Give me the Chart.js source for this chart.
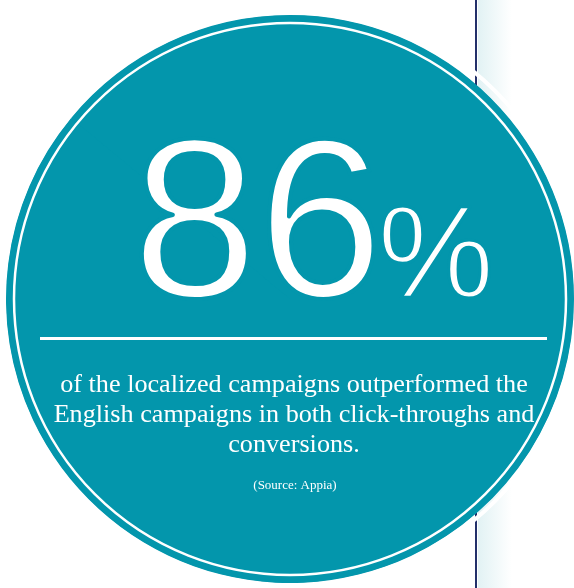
<!DOCTYPE html>
<html>
<head>
<meta charset="utf-8">
<script src="https://cdn.jsdelivr.net/npm/chart.js@4/dist/chart.umd.min.js"></script>
<style>
  html, body { margin: 0; padding: 0; background: #ffffff; }
  #wrap { width: 574px; height: 588px; position: relative; }
</style>
</head>
<body>
<div id="wrap"><canvas id="myChart" width="574" height="588"></canvas></div>
<script>
// share of localized campaigns that beat the English ones
const categories = ['Outperformed', 'Did not outperform'];
const shareValues = [86, 14];
const captionLines = [
    'of the localized campaigns outperformed the',
    'English campaigns in both click-throughs and',
    'conversions.'
];
const sourceLabel = '(Source: Appia)';

const teal = '#0396ac';
const navy = '#22306a';

// thin white text: fill, then eat the edges back with the disc colour
function lightText(ctx, txt, x, y, thin) {
    ctx.fillStyle = '#ffffff';
    ctx.fillText(txt, x, y);
    ctx.strokeStyle = teal;
    ctx.lineWidth = thin;
    ctx.lineJoin = 'round';
    ctx.strokeText(txt, x, y);
}

// backdrop: white page, navy rule with a pale band on the right
const backdrop = {
    id: 'backdrop',
    beforeDraw(chart) {
        const ctx = chart.ctx;
        ctx.save();
        ctx.fillStyle = '#ffffff';
        ctx.fillRect(0, 0, chart.width, chart.height);
        const g = ctx.createLinearGradient(478, 0, 512, 0);
        g.addColorStop(0, '#e2f2f4');
        g.addColorStop(1, 'rgba(255,255,255,1)');
        ctx.fillStyle = g;
        ctx.fillRect(478, 0, 34, chart.height);
        ctx.fillStyle = navy;
        ctx.fillRect(475, 0, 2, chart.height);
        ctx.restore();
    },
    beforeDatasetsDraw(chart) {
        const arc = chart.getDatasetMeta(0).data[0];
        const ctx = chart.ctx;
        ctx.save();
        // white halo just outside the disc
        ctx.strokeStyle = '#ffffff';
        ctx.lineWidth = 4;
        ctx.beginPath();
        ctx.arc(arc.x, arc.y - 3, arc.outerRadius + 6, 0, Math.PI * 2);
        ctx.stroke();
        // solid disc under the slices so the seam doesn't show
        ctx.fillStyle = teal;
        ctx.beginPath();
        ctx.arc(arc.x, arc.y, arc.outerRadius - 0.5, 0, Math.PI * 2);
        ctx.fill();
        ctx.restore();
    },
    afterDatasetsDraw(chart) {
        const arc = chart.getDatasetMeta(0).data[0];
        const ctx = chart.ctx;
        const cx = arc.x, cy = arc.y, r = arc.outerRadius;
        ctx.save();
        // inner white ring
        ctx.strokeStyle = '#ffffff';
        ctx.lineWidth = 2.5;
        ctx.beginPath();
        ctx.arc(cx, cy, r - 8, 0, Math.PI * 2);
        ctx.stroke();

        // big number
        ctx.textBaseline = 'alphabetic';
        ctx.textAlign = 'left';
        ctx.font = '226px "Liberation Sans"';
        const num = String(shareValues[0]);
        const nx = 132;
        lightText(ctx, num, nx, 297, 4);
        const nw = ctx.measureText(num).width;
        ctx.font = '131px "Liberation Sans"';
        lightText(ctx, '%', nx + nw - 6, 297, 3);

        // divider
        ctx.fillStyle = '#ffffff';
        ctx.fillRect(40, 337, 507, 3);

        // caption
        ctx.textAlign = 'center';
        let size = 24;
        ctx.font = size + 'px "Liberation Serif"';
        size = size * 468 / ctx.measureText(captionLines[0]).width;
        ctx.font = size.toFixed(1) + 'px "Liberation Serif"';
        captionLines.forEach((line, i) => {
            ctx.fillText(line, 294, 392 + i * 30);
        });
        ctx.font = '13px "Liberation Serif"';
        ctx.fillText(sourceLabel, 295, 489);
        ctx.restore();
    }
};

const ctx = document.getElementById('myChart').getContext('2d');
new Chart(ctx, {
    type: 'pie',
    data: {
        labels: categories,
        datasets: [{
            data: shareValues,
            backgroundColor: [teal, teal],
            borderWidth: 0,
            hoverOffset: 0
        }]
    },
    options: {
        responsive: false,
        animation: false,
        events: [],
        layout: { padding: { left: 6, right: 0, top: 10, bottom: 0 } },
        plugins: {
            legend: { display: false },
            title: { display: false },
            tooltip: { enabled: false }
        }
    },
    plugins: [backdrop]
});
</script>
</body>
</html>
